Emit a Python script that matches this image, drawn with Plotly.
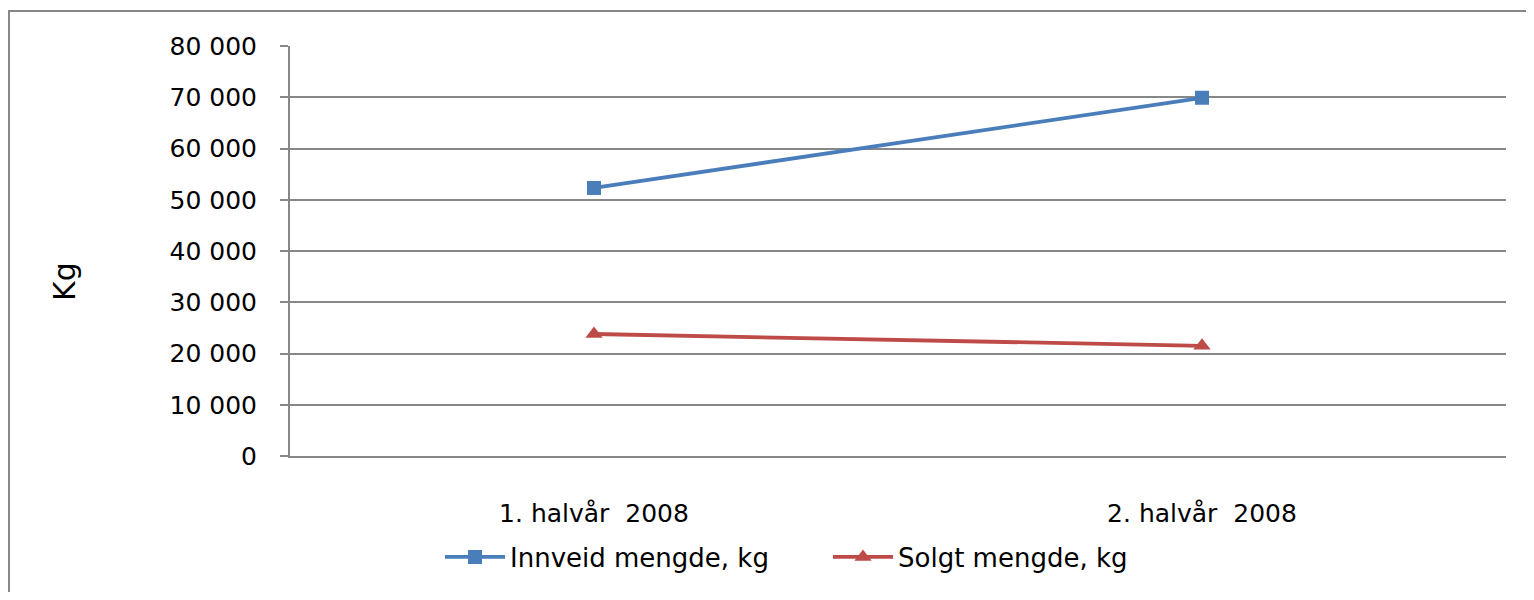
import plotly.graph_objects as go

categories = ["1. halvår  2008", "2. halvår  2008"]
innveid = [52300, 69900]
solgt = [23800, 21500]
y_ticks = [0, 10000, 20000, 30000, 40000, 50000, 60000, 70000, 80000]
y_title = "Kg"

# page offset from the default 8px body margin
OFF = 8
W, H = 1534 - OFF, 600 - 2 * OFF
# plot area in page pixels: x 290..1506, y 46..456
L, T = 290 - OFF, 46 - OFF
R = W - (1506 - OFF)
B = H - (456 - OFF)
pw = W - L - R
ph = H - T - B

def px(x):
    return (x - OFF - L) / pw

def py(y):
    return (H - B - (y - OFF)) / ph

grid = "#878787"
font = "DejaVu Sans"

fig = go.Figure()
fig.add_trace(go.Scatter(
    x=categories, y=innveid, name="Innveid mengde, kg", mode="lines+markers",
    line=dict(color="#4A7EBB", width=3.8),
    marker=dict(symbol="square", size=14, color="#4A7EBB"),
))
fig.add_trace(go.Scatter(
    x=categories, y=solgt, name="Solgt mengde, kg", mode="lines+markers",
    line=dict(color="#BE4B48", width=3.8),
    marker=dict(symbol="triangle-up", size=15, color="#BE4B48"),
))

fig.update_layout(
    width=W, height=H,
    margin=dict(l=L, r=R, t=T, b=B, pad=0),
    paper_bgcolor="white", plot_bgcolor="white",
    separators=", ",
    font=dict(family=font, size=25, color="black"),
    showlegend=True,
    legend=dict(
        orientation="h", x=px(440), y=py(557), xanchor="left", yanchor="middle",
        font=dict(family=font, size=26, color="black"),
        entrywidth=313, entrywidthmode="pixels", itemwidth=60,
        bgcolor="rgba(0,0,0,0)",
    ),
    xaxis=dict(
        type="category", range=[-0.5, 1.5], showgrid=False,
        showline=True, linecolor=grid, linewidth=2,
        ticks="outside", ticklen=34, tickcolor="rgba(0,0,0,0)",
        tickfont=dict(family=font, size=25, color="black"),
        zeroline=False, fixedrange=True,
    ),
    yaxis=dict(
        range=[0, 80000], tickvals=y_ticks, tickformat=",d",
        showgrid=True, gridcolor=grid, gridwidth=2,
        showline=True, linecolor=grid, linewidth=2,
        ticks="outside", ticklen=8, tickcolor=grid, tickwidth=2,
        ticklabelstandoff=18,
        tickfont=dict(family=font, size=25, color="black"),
        zeroline=False, fixedrange=True,
    ),
    annotations=[dict(
        text=y_title, xref="paper", yref="paper", x=px(64), y=py(282),
        xanchor="center", yanchor="middle", textangle=-90, showarrow=False,
        font=dict(family=font, size=30, color="black"),
    )],
    shapes=[dict(
        type="rect", xref="paper", yref="paper",
        x0=px(9), x1=px(1545), y0=py(615), y1=py(11),
        line=dict(color=grid, width=2), fillcolor="rgba(0,0,0,0)", layer="below",
    )],
)

fig.write_html("out.html")
